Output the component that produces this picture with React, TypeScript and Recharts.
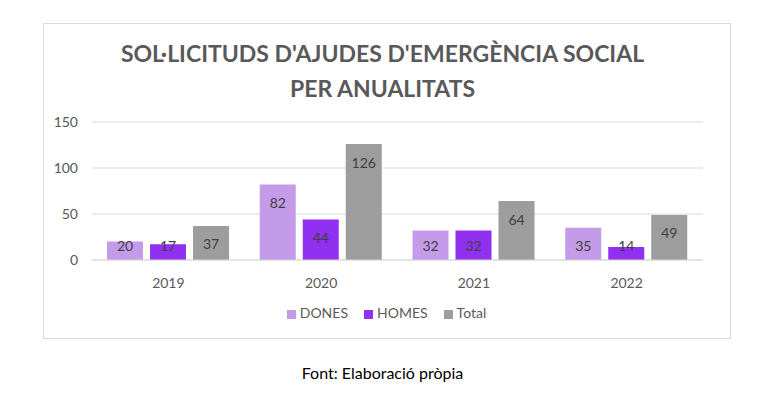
import { Bar, BarChart, CartesianGrid, LabelList, Legend, XAxis, YAxis } from "recharts";

const YEARS = ["2019", "2020", "2021", "2022"];
const DONES = [20, 82, 32, 35];
const HOMES = [17, 44, 32, 14];
const TOTAL = [37, 126, 64, 49];
const Y_TICKS = [0, 50, 100, 150];

const data = YEARS.map((year, i) => ({
  year,
  DONES: DONES[i],
  HOMES: HOMES[i],
  Total: TOTAL[i],
}));

const FONT = "Lato, 'Open Sans', sans-serif";

// Excel-style inside-end label, kept above the baseline for short bars
const InsideEndLabel = (props: any) => {
  const { x, y, width, height, value } = props;
  const cy = Math.min(y + 18, y + height - 15);
  return (
    <text
      x={x + width / 2}
      y={cy}
      textAnchor="middle"
      dominantBaseline="central"
      fill="#404040"
      fontSize={14}
      fontFamily={FONT}
    >
      {value}
    </text>
  );
};

export default function App() {
  return (
    <div
      style={{
        position: "absolute",
        left: 0,
        top: 0,
        width: 765,
        height: 395,
        background: "#fff",
        fontFamily: FONT,
      }}
    >
      <div
        style={{
          position: "absolute",
          left: 43,
          top: 23,
          width: 686,
          height: 314,
          border: "1px solid #d9d9d9",
        }}
      />
      <div
        style={{
          position: "absolute",
          left: 0,
          width: 765,
          top: 36,
          textAlign: "center",
          fontWeight: 700,
          fontSize: 23,
          lineHeight: "35px",
          color: "#595959",
        }}
      >
        SOL·LICITUDS D'AJUDES D'EMERGÈNCIA SOCIAL
        <br />
        PER ANUALITATS
      </div>
      <div style={{ position: "absolute", left: 0, top: 0 }}>
        <BarChart
          width={765}
          height={395}
          data={data}
          margin={{ top: 122, right: 62, left: 0, bottom: 88 }}
          barGap={7}
          barCategoryGap={15}
        >
          <CartesianGrid vertical={false} stroke="#d9d9d9" />
          <XAxis
            dataKey="year"
            axisLine={{ stroke: "#d9d9d9" }}
            tickLine={false}
            tick={{ fill: "#595959", fontSize: 14, fontFamily: FONT }}
            tickMargin={12}
            height={30}
          />
          <YAxis
            domain={[0, 150]}
            ticks={Y_TICKS}
            axisLine={false}
            tickLine={false}
            tick={{ fill: "#595959", fontSize: 14, fontFamily: FONT }}
            tickSize={0}
            tickMargin={14}
            width={92}
          />
          <Legend
            verticalAlign="bottom"
            iconType="square"
            iconSize={9}
            wrapperStyle={{
              fontSize: 14,
              fontFamily: FONT,
              color: "#595959",
              top: 304,
              left: 12,
              width: 765,
            }}
            formatter={(v: string) => (
              <span style={{ color: "#595959", marginRight: 6 }}>{v}</span>
            )}
          />
          <Bar dataKey="DONES" fill="#c39be8" isAnimationActive={false}>
            <LabelList dataKey="DONES" content={InsideEndLabel} />
          </Bar>
          <Bar dataKey="HOMES" fill="#9030f0" isAnimationActive={false}>
            <LabelList dataKey="HOMES" content={InsideEndLabel} />
          </Bar>
          <Bar dataKey="Total" fill="#9d9d9d" isAnimationActive={false}>
            <LabelList dataKey="Total" content={InsideEndLabel} />
          </Bar>
        </BarChart>
      </div>
      <div
        style={{
          position: "absolute",
          left: 0,
          width: 765,
          top: 363,
          textAlign: "center",
          fontSize: 16,
          color: "#000",
        }}
      >
        Font: Elaboració pròpia
      </div>
    </div>
  );
}
